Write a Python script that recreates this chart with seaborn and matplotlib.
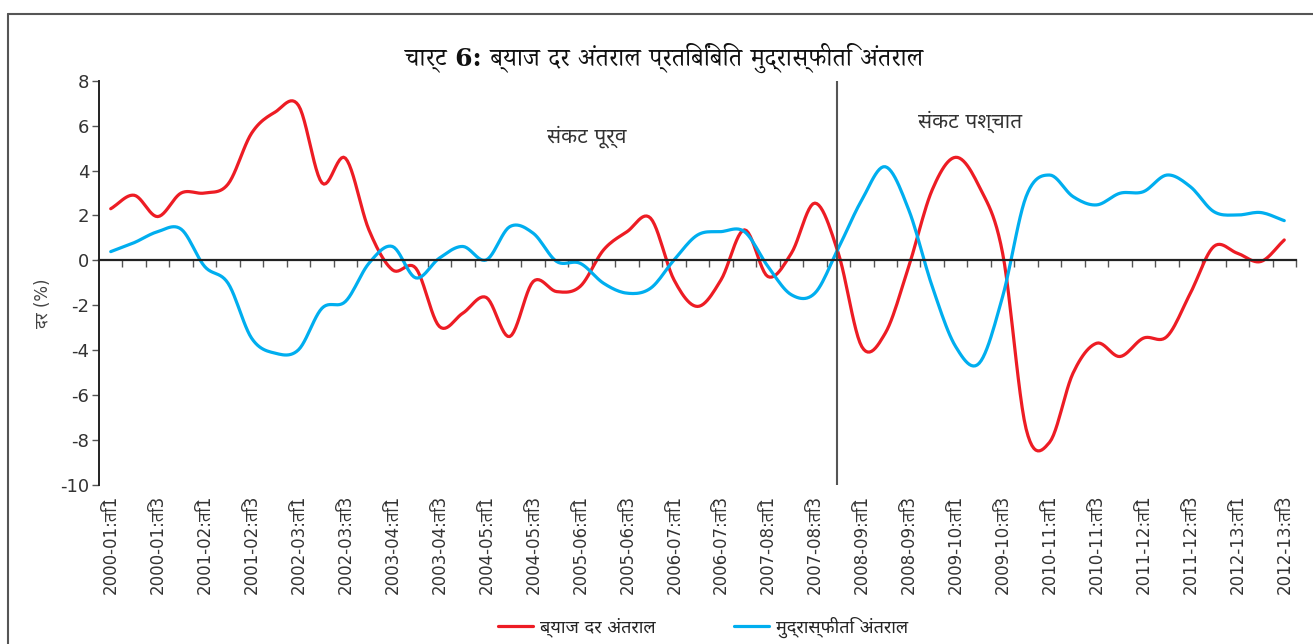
import numpy as np
import pandas as pd
import matplotlib
matplotlib.use("Agg")
import matplotlib.pyplot as plt
import seaborn as sns
from matplotlib import font_manager
from matplotlib.ft2font import FT2Font

# ---------------- data ----------------
years = ["2000-01", "2001-02", "2002-03", "2003-04", "2004-05", "2005-06", "2006-07",
         "2007-08", "2008-09", "2009-10", "2010-11", "2011-12", "2012-13"]
quarters = ["ति1", "ति2", "ति3", "ति4"]
periods = [f"{y}:{q}" for y in years for q in quarters][:51]

interest_gap = [2.3, 2.9, 1.95, 3.0, 3.0, 3.4, 5.66, 6.6, 6.9, 3.45, 4.55, 1.36,
                -0.42, -0.35, -2.94, -2.35, -1.65, -3.39, -0.94, -1.39, -1.16, 0.47,
                1.28, 1.88, -0.87, -2.05, -0.87, 1.36, -0.72, 0.32, 2.55, 0.32,
                -3.84, -3.24, -0.27, 3.14, 4.59, 3.29, 0.32, -7.5, -8.1, -5.02,
                -3.69, -4.28, -3.46, -3.39, -1.46, 0.62, 0.32, -0.05, 0.91]
inflation_gap = [0.39, 0.79, 1.28, 1.39, -0.27, -1.02, -3.46, -4.13, -3.98, -2.13, -1.83,
                 -0.13, 0.62, -0.78, 0.1, 0.62, 0.02, 1.5, 1.21, -0.05, -0.13, -1.02,
                 -1.46, -1.24, 0.02, 1.13, 1.28, 1.28, -0.27, -1.53, -1.46, 0.54,
                 2.69, 4.17, 2.25, -1.16, -3.84, -4.58, -1.61, 2.84, 3.8, 2.84,
                 2.47, 2.99, 3.06, 3.8, 3.28, 2.17, 2.02, 2.13, 1.77]

series_names = ["ब्याज दर अंतराल", "मुद्रास्फीति अंतराल"]
series_colors = ["#ED1C24", "#00AEEF"]
title_text = "चार्ट 6: ब्याज दर अंतराल प्रतिबिंबित मुद्रास्फीति अंतराल"
ylabel_text = "दर (%)"
pre_text = "संकट पूर्व"
post_text = "संकट पश्चात"
crisis_index = 31
yticks = [8, 6, 4, 2, 0, -2, -4, -6, -8, -10]

# ---------------- fonts ----------------
def deva_families():
    found = []
    for f in font_manager.fontManager.ttflist:
        try:
            ft = FT2Font(f.fname)
            if ord("क") in ft.get_charmap() and f.name not in found:
                found.append(f.name)
        except Exception:
            pass
    return found

cands = deva_families()

def pick(prefs, fallback_ok=True):
    for p in prefs:
        if p in cands:
            return p
    if fallback_ok:
        non_mono = [c for c in cands if "mono" not in c.lower()]
        if non_mono:
            return non_mono[0]
        if cands:
            return cands[0]
    return None

sans_deva = pick(["Noto Sans Devanagari", "Lohit Devanagari", "Lohit Hindi", "FreeSans",
                  "Mukta", "Hind", "Gargi", "Kalimati", "Samanata", "Nakula", "Sahadeva"])
serif_deva = pick(["Noto Serif Devanagari", "FreeSerif", "Kalimati", "Chandas"]) or sans_deva

sans_fams = ["DejaVu Sans"] + ([sans_deva] if sans_deva else [])
serif_fams = ["DejaVu Serif"] + ([serif_deva] if serif_deva else [])

sns.set_theme(style="white")
plt.rcParams["font.family"] = sans_fams


def smooth(values, n=12):
    """Catmull-Rom rendering of a category line (like a spreadsheet 'smoothed line')."""
    y = np.asarray(values, float)
    p = np.concatenate([[2 * y[0] - y[1]], y, [2 * y[-1] - y[-2]]])
    xs, ys = [], []
    for i in range(len(y) - 1):
        p0, p1, p2, p3 = p[i], p[i + 1], p[i + 2], p[i + 3]
        t = np.linspace(0, 1, n, endpoint=False)
        seg = 0.5 * ((2 * p1) + (-p0 + p2) * t + (2 * p0 - 5 * p1 + 4 * p2 - p3) * t ** 2
                     + (-p0 + 3 * p1 - 3 * p2 + p3) * t ** 3)
        xs.append(i + t)
        ys.append(seg)
    xs.append([len(y) - 1])
    ys.append([y[-1]])
    return np.concatenate(xs), np.concatenate(ys)


frames = []
for name, vals in zip(series_names, [interest_gap, inflation_gap]):
    sx, sy = smooth(vals)
    frames.append(pd.DataFrame({"x": sx, "y": sy, "series": name}))
df = pd.concat(frames, ignore_index=True)

fig = plt.figure(figsize=(13.13, 6.44), dpi=100)
ax = fig.add_axes([99 / 1313, 1 - 485 / 644, (1296 - 99) / 1313, (485 - 80.7) / 644])

sns.lineplot(data=df, x="x", y="y", hue="series", palette=series_colors,
             hue_order=series_names, linewidth=2.3, ax=ax, sort=False, estimator=None)

n = len(periods)
ax.set_xlim(-0.5, n - 0.5)
ax.set_ylim(-10, 8)

# axes styling
for s in ["top", "right"]:
    ax.spines[s].set_visible(False)
ax.spines["left"].set_color("#222222")
ax.spines["left"].set_linewidth(1.4)
ax.spines["bottom"].set_position(("data", 0))
ax.spines["bottom"].set_color("#222222")
ax.spines["bottom"].set_linewidth(1.6)
ax.set_xticks(np.arange(n) + 0.5)
ax.tick_params(axis="x", labelbottom=False, bottom=True, length=5, width=1.0,
               color="#555555", direction="out")
ax.set_yticks(yticks)
ax.set_yticklabels([str(v) for v in yticks], fontsize=13, color="#333333")
ax.tick_params(axis="y", left=True, length=5, width=1.0, color="#555555", pad=2)

sec = ax.secondary_xaxis("bottom")
sec.set_xticks(np.arange(0, n, 2))
sec.set_xticklabels(periods[::2], rotation=90, fontsize=12, color="#333333")
sec.tick_params(length=0, pad=7)
sec.spines["bottom"].set_visible(False)

ax.set_xlabel("")
ax.set_ylabel(ylabel_text, fontsize=12, color="#444444")
ax.yaxis.set_label_coords(-0.039, 0.45)

ax.axvline(crisis_index - 0.07, color="#555555", linewidth=1.5)
ax.text(20.3, 5.5, pre_text, fontsize=15, color="#333333", ha="center", va="center")
ax.text(36.6, 6.15, post_text, fontsize=15, color="#333333", ha="center", va="center")

fig.text(0.506, 0.91, title_text, fontsize=18, fontweight="bold", ha="center",
         va="center", color="#111111", family=serif_fams)

handles, labels = ax.get_legend_handles_labels()
ax.legend_.remove()
fig.legend(handles, labels, loc="center", bbox_to_anchor=(703 / 1313, 1 - 627 / 644),
           ncol=2, frameon=False, fontsize=13, handlelength=1.95, handletextpad=0.4,
           columnspacing=4.3)

# figure frame (top and left edges)
fig.add_artist(plt.Line2D([8 / 1313, 8 / 1313], [0, 1 - 14 / 644], transform=fig.transFigure,
                          color="#555555", linewidth=1.5))
fig.add_artist(plt.Line2D([8 / 1313, 1], [1 - 14 / 644, 1 - 14 / 644], transform=fig.transFigure,
                          color="#555555", linewidth=1.5))

fig.savefig("out.png", dpi=100, facecolor="white")
